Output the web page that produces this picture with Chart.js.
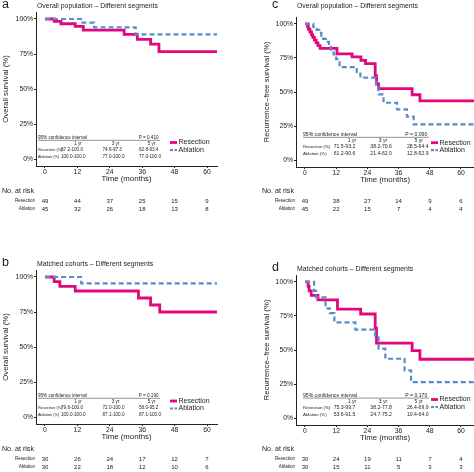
<!DOCTYPE html>
<html>
<head>
<meta charset="utf-8">
<script src="https://cdn.jsdelivr.net/npm/chart.js@4.4.1/dist/chart.umd.min.js"></script>
<style>
  html, body { margin: 0; padding: 0; background: #fff; }
  #wrap { position: relative; width: 474px; height: 472px; overflow: hidden; background: #fff; }
  canvas { position: absolute; }
</style>
</head>
<body>
<div id="wrap">
  <canvas id="panelA" width="237" height="236" style="left:0;top:0"></canvas>
  <canvas id="panelC" width="237" height="236" style="left:237px;top:0"></canvas>
  <canvas id="panelB" width="237" height="236" style="left:0;top:258px"></canvas>
  <canvas id="panelD" width="237" height="236" style="left:237px;top:258px"></canvas>
</div>
<script>
// axis ticks
const monthTicks = [0, 12, 24, 36, 48, 60];
const pctTicks = [0, 25, 50, 75, 100];

// a: overall survival, overall population
const osAllResTime = [0, 3.4, 5.9, 11.2, 14.2, 29.3, 34.2, 39.1, 42.2, 63.7];
const osAllResSurv = [100, 98.3, 96.6, 94.8, 92, 89, 85.5, 82, 76.7, 76.7];
const osAllAblTime = [0, 13.3, 18.2, 33.6, 63.7];
const osAllAblSurv = [100, 97.4, 94, 89, 89];
const osAllRiskRes = [49, 44, 37, 25, 15, 9];
const osAllRiskAbl = [45, 32, 26, 18, 13, 8];
const osAllCiRes = ['87.2-100.0', '74.6-97.3', '62.8-93.4'];
const osAllCiAbl = ['100.0-100.0', '77.0-100.0', '77.0-100.0'];

// b: overall survival, matched cohorts
const osMatResTime = [0, 3.4, 5.5, 11.2, 34.6, 39.1, 42.5, 63.7];
const osMatResSurv = [100, 96.7, 93.3, 90, 85, 80, 75, 75];
const osMatAblTime = [0, 13.4, 63.7];
const osMatAblSurv = [100, 95.5, 95.5];
const osMatRiskRes = [30, 26, 24, 17, 12, 7];
const osMatRiskAbl = [30, 22, 18, 12, 10, 6];
const osMatCiRes = ['79.6-100.0', '72.0-100.0', '58.0-95.2'];
const osMatCiAbl = ['100.0-100.0', '87.1-100.0', '87.1-100.0'];

// c: recurrence-free survival, overall population
const rfsAllResTime = [0, 1.0, 1.3, 1.9, 2.5, 3.0, 3.6, 4.3, 5.0, 5.8, 12.3, 18.1, 21.5, 23.3, 27.0, 27.5, 28.3, 41.2, 44.2, 65];
const rfsAllResSurv = [100, 98, 96, 94, 92, 90, 88, 86, 84, 82, 78, 75.7, 73.2, 70.8, 62, 56, 52.5, 48, 43.5, 43.5];
const rfsAllAblTime = [0, 3.2, 4.5, 5.5, 6.3, 7, 8, 9.2, 10, 11, 12, 13.3, 19.9, 21.3, 27.3, 28.3, 30.2, 35.4, 39.2, 41.8, 65];
const rfsAllAblSurv = [100, 97.8, 95.6, 93.3, 91.1, 88.9, 86.7, 84.4, 81, 77.5, 74, 68.3, 64.5, 60.5, 55.5, 48.2, 42.1, 37.2, 31.9, 26.3, 26.3];
const rfsAllRiskRes = [49, 38, 27, 14, 9, 6];
const rfsAllRiskAbl = [45, 22, 15, 7, 4, 4];
const rfsAllCiRes = ['71.5-93.2', '38.2-70.6', '28.5-64.4'];
const rfsAllCiAbl = ['61.2-90.6', '21.4-62.0', '12.8-52.9'];

// d: recurrence-free survival, matched cohorts
const rfsMatResTime = [0, 1.2, 1.6, 2.4, 5.0, 12.5, 21.4, 27.0, 27.5, 41.2, 44.2, 65];
const rfsMatResSurv = [100, 96.7, 93.3, 90, 86.7, 80, 76.4, 66, 55, 49.5, 43.2, 43.2];
const rfsMatAblTime = [0, 3.5, 4.3, 7.9, 9.5, 11.3, 19.4, 27.0, 28.3, 30.9, 38.3, 40.8, 65];
const rfsMatAblSurv = [100, 93.3, 88.6, 80.5, 77, 70.3, 65, 60.6, 51, 43.6, 35, 26.5, 26.5];
const rfsMatRiskRes = [30, 24, 19, 11, 7, 4];
const rfsMatRiskAbl = [30, 15, 11, 5, 3, 3];
const rfsMatCiRes = ['75.3-99.7', '38.2-77.8', '26.4-69.9'];
const rfsMatCiAbl = ['53.6-91.5', '24.7-75.2', '10.4-64.0'];

const yearLabels = ['1 yr', '3 yr', '5 yr'];

const FONT = '"Liberation Sans", Arial, sans-serif';
const INK = '#222';
const PINK = '#e2077d';
const BLUE = '#5a8cc8';

Chart.defaults.font.family = FONT;
Chart.defaults.color = INK;

// panel geometry (left column / right column)
const leftLay = { left: 36, right: 217, top: 12, bottom: 166, xMin: -3.33, xMax: 63.7,
  yTitleX: 6, titleX: 37, letterX: 2,
  ciX: 38, ciFont: 4.6, ciLabFont: 3.9, colStart: [61, 102.5, 139], headMid: [78, 115.5, 151.5],
  ciLineEnd: 160, pX: 138.7, legX: 170, riskLabelX: 35, noRiskX: 2 };
const rightLay = { left: 59, right: 237, top: 17, bottom: 167, xMin: -3.46, xMax: 65,
  yTitleX: 29.5, titleX: 60, letterX: 35,
  ciX: 66, ciFont: 5.1, ciLabFont: 4.35, colStart: [96.7, 133.3, 170], headMid: [115, 146, 181.7],
  ciLineEnd: 192, pX: 168.3, legX: 194, riskLabelX: 58, noRiskX: 25 };

function pts(t, s) {
  return t.map((v, i) => ({ x: v, y: s[i] }));
}

const kmText = {
  id: 'kmText',
  afterDraw(chart, args, o) {
    const ctx = chart.ctx, L = o.lay, area = chart.chartArea, xs = chart.scales.x;
    ctx.save();
    ctx.fillStyle = INK;
    ctx.textBaseline = 'middle';

    // letter + title
    ctx.textAlign = 'left';
    ctx.font = '12.5px ' + FONT;
    ctx.fillText(o.letter, L.letterX, o.letterY);
    ctx.font = '6.9px ' + FONT;
    ctx.fillText(o.title, L.titleX, o.titleY);

    // axis titles
    ctx.textAlign = 'center';
    ctx.font = '7.8px ' + FONT;
    ctx.fillText('Time (months)', (area.left + area.right) / 2, area.bottom + 12.5);
    ctx.save();
    ctx.translate(L.yTitleX, (area.top + area.bottom) / 2);
    ctx.rotate(-Math.PI / 2);
    ctx.fillText(o.yTitle, 0, 0);
    ctx.restore();

    // confidence interval table
    const cy = o.ciY;
    ctx.font = L.ciFont + 'px ' + FONT;
    ctx.textAlign = 'left';
    ctx.fillText('95% confidence interval', L.ciX, cy);
    ctx.fillText('P = ' + o.p, L.pX, cy);
    ctx.strokeStyle = '#777';
    ctx.lineWidth = 0.8;
    ctx.beginPath();
    ctx.moveTo(L.ciX, cy + 2.8);
    ctx.lineTo(L.ciLineEnd, cy + 2.8);
    ctx.stroke();
    yearLabels.forEach((lab, i) => {
      ctx.textAlign = 'center';
      ctx.fillText(lab, L.headMid[i], cy + 6.5);
      ctx.textAlign = 'left';
      ctx.fillText(o.ciRes[i], L.colStart[i], cy + 12.4);
      ctx.fillText(o.ciAbl[i], L.colStart[i], cy + 19);
    });
    ctx.font = L.ciLabFont + 'px ' + FONT;
    ctx.fillText('Resection (%)', L.ciX, cy + 12.4);
    ctx.fillText('Ablation (%)', L.ciX, cy + 19);

    // legend
    const ly = o.legY;
    ctx.lineWidth = 2.8;
    ctx.strokeStyle = PINK;
    ctx.beginPath();
    ctx.moveTo(L.legX, ly);
    ctx.lineTo(L.legX + 7, ly);
    ctx.stroke();
    ctx.strokeStyle = BLUE;
    ctx.lineWidth = 2.2;
    ctx.setLineDash([3, 1.5]);
    ctx.beginPath();
    ctx.moveTo(L.legX, ly + 7.5);
    ctx.lineTo(L.legX + 7, ly + 7.5);
    ctx.stroke();
    ctx.setLineDash([]);
    ctx.textAlign = 'left';
    ctx.font = '7px ' + FONT;
    ctx.fillText('Resection', L.legX + 8.5, ly);
    ctx.fillText('Ablation', L.legX + 8.5, ly + 7.5);

    // number at risk
    ctx.font = '7.1px ' + FONT;
    ctx.fillText('No. at risk', L.noRiskX, 191);
    ctx.textAlign = 'right';
    ctx.font = '4.5px ' + FONT;
    ctx.fillText('Resection', L.riskLabelX, 201);
    ctx.fillText('Ablation', L.riskLabelX, 209);
    ctx.textAlign = 'center';
    ctx.font = '6px ' + FONT;
    monthTicks.forEach((t, i) => {
      const x = xs.getPixelForValue(t);
      ctx.fillText(String(o.riskRes[i]), x, 201);
      ctx.fillText(String(o.riskAbl[i]), x, 209);
    });
    ctx.restore();
  }
};

function makePanel(id, lay, p) {
  const W = 237, H = 236, xH = 12;
  return new Chart(document.getElementById(id), {
    type: 'line',
    data: {
      datasets: [
        {
          label: 'Ablation',
          data: pts(p.ablT, p.ablS),
          borderColor: BLUE,
          borderWidth: 2.2,
          borderDash: [5, 3],
          borderCapStyle: 'butt',
          stepped: 'before',
          pointRadius: 0,
          fill: false
        },
        {
          label: 'Resection',
          data: pts(p.resT, p.resS),
          borderColor: PINK,
          borderWidth: 2.8,
          borderCapStyle: 'butt',
          borderJoinStyle: 'miter',
          stepped: 'before',
          pointRadius: 0,
          fill: false
        }
      ]
    },
    options: {
      responsive: false,
      animation: false,
      layout: { padding: { left: 0, top: lay.top, right: W - lay.right, bottom: H - lay.bottom - xH } },
      plugins: {
        legend: { display: false },
        tooltip: { enabled: false },
        kmText: Object.assign({ lay: lay }, p)
      },
      scales: {
        x: {
          type: 'linear',
          min: lay.xMin,
          max: lay.xMax,
          afterFit: s => { s.height = xH; },
          afterBuildTicks: s => { s.ticks = monthTicks.map(v => ({ value: v })); },
          ticks: { color: INK, font: { size: 6.8 }, padding: 0, maxRotation: 0 },
          grid: { drawOnChartArea: false, tickLength: 2, color: INK },
          border: { color: INK, width: 1 }
        },
        y: {
          min: -5,
          max: 105,
          afterFit: s => { s.width = lay.left; },
          afterBuildTicks: s => { s.ticks = pctTicks.map(v => ({ value: v })); },
          ticks: { color: INK, font: { size: 6.8 }, padding: 1, callback: v => v + '%' },
          grid: { drawOnChartArea: false, tickLength: 2, color: INK },
          border: { color: INK, width: 1 }
        }
      }
    },
    plugins: [kmText]
  });
}

makePanel('panelA', leftLay, {
  letter: 'a', letterY: 4.5, title: 'Overall population \u2013 Different segments', titleY: 6,
  yTitle: 'Overall survival (%)', p: '0.410', ciY: 137.5, legY: 142.5,
  resT: osAllResTime, resS: osAllResSurv, ablT: osAllAblTime, ablS: osAllAblSurv,
  riskRes: osAllRiskRes, riskAbl: osAllRiskAbl, ciRes: osAllCiRes, ciAbl: osAllCiAbl
});

makePanel('panelB', leftLay, {
  letter: 'b', letterY: 4.5, title: 'Matched cohorts \u2013 Different segments', titleY: 6,
  yTitle: 'Overall survival (%)', p: '0.190', ciY: 137.5, legY: 143,
  resT: osMatResTime, resS: osMatResSurv, ablT: osMatAblTime, ablS: osMatAblSurv,
  riskRes: osMatRiskRes, riskAbl: osMatRiskAbl, ciRes: osMatCiRes, ciAbl: osMatCiAbl
});

makePanel('panelC', rightLay, {
  letter: 'c', letterY: 5, title: 'Overall population \u2013 Different segments', titleY: 6,
  yTitle: 'Recurrence\u2013free survival (%)', p: '0.090', ciY: 134.5, legY: 142.7,
  resT: rfsAllResTime, resS: rfsAllResSurv, ablT: rfsAllAblTime, ablS: rfsAllAblSurv,
  riskRes: rfsAllRiskRes, riskAbl: rfsAllRiskAbl, ciRes: rfsAllCiRes, ciAbl: rfsAllCiAbl
});

makePanel('panelD', rightLay, {
  letter: 'd', letterY: 9.7, title: 'Matched cohorts \u2013 Different segments', titleY: 11.3,
  yTitle: 'Recurrence\u2013free survival (%)', p: '0.170', ciY: 137.3, legY: 141.5,
  resT: rfsMatResTime, resS: rfsMatResSurv, ablT: rfsMatAblTime, ablS: rfsMatAblSurv,
  riskRes: rfsMatRiskRes, riskAbl: rfsMatRiskAbl, ciRes: rfsMatCiRes, ciAbl: rfsMatCiAbl
});
</script>
</body>
</html>
